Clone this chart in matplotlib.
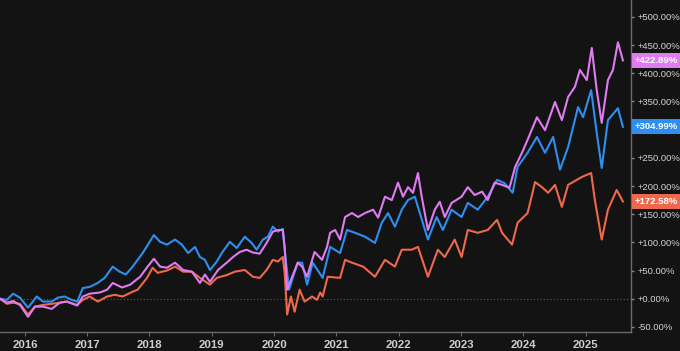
import matplotlib
matplotlib.use("Agg")
import matplotlib.pyplot as plt

# ---- data (decimal year, cumulative return %) ----
blue_t = [2015.60, 2015.71, 2015.81, 2015.92, 2016.05, 2016.19, 2016.29, 2016.43, 2016.53, 2016.64,
          2016.75, 2016.84, 2016.93, 2017.04, 2017.17, 2017.28, 2017.41, 2017.52, 2017.62, 2017.73,
          2017.89, 2018.07, 2018.17, 2018.28, 2018.41, 2018.52, 2018.62, 2018.73, 2018.81, 2018.89,
          2018.97, 2019.08, 2019.16, 2019.29, 2019.40, 2019.53, 2019.64, 2019.72, 2019.82, 2019.90,
          2019.98, 2020.06, 2020.14, 2020.17, 2020.24, 2020.30, 2020.38, 2020.45, 2020.53, 2020.62,
          2020.78, 2020.90, 2021.06, 2021.17, 2021.30, 2021.46, 2021.62, 2021.73, 2021.83, 2021.94,
          2022.05, 2022.15, 2022.26, 2022.34, 2022.47, 2022.61, 2022.71, 2022.85, 2023.01, 2023.11,
          2023.27, 2023.43, 2023.58, 2023.70, 2023.83, 2023.91, 2024.07, 2024.22, 2024.35, 2024.48,
          2024.59, 2024.72, 2024.88, 2024.96, 2025.09, 2025.18, 2025.26, 2025.36, 2025.52, 2025.60]
blue_v = [0, -2, 9, 2, -16, 4, -5, -5, 2, 4,
          -2, -5, 19, 21, 28, 37, 57, 48, 43, 57,
          81, 113, 101, 96, 105, 96, 81, 92, 74, 69,
          51, 66, 81, 101, 90, 110, 99, 87, 105, 110,
          128, 119, 124, 87, 16, 37, 64, 64, 25, 64,
          37, 92, 81, 122, 117, 110, 99, 135, 152, 128,
          158, 175, 181, 152, 105, 145, 122, 158, 145, 170,
          158, 181, 211, 205, 188, 234, 259, 287, 259, 287,
          229, 269, 340, 322, 370, 294, 232, 317, 338, 304.99]

violet_t = [2015.60, 2015.71, 2015.81, 2015.92, 2016.05, 2016.16, 2016.29, 2016.43, 2016.56, 2016.67,
            2016.84, 2016.93, 2017.04, 2017.20, 2017.32, 2017.41, 2017.56, 2017.69, 2017.85, 2017.97,
            2018.07, 2018.17, 2018.28, 2018.41, 2018.54, 2018.68, 2018.81, 2018.89, 2018.97, 2019.10,
            2019.24, 2019.34, 2019.45, 2019.56, 2019.66, 2019.77, 2019.88, 2019.98, 2020.06, 2020.14,
            2020.17, 2020.21, 2020.29, 2020.38, 2020.45, 2020.53, 2020.65, 2020.77, 2020.85, 2020.90,
            2020.98, 2021.06, 2021.14, 2021.25, 2021.35, 2021.46, 2021.59, 2021.67, 2021.78, 2021.89,
            2021.99, 2022.07, 2022.15, 2022.23, 2022.31, 2022.37, 2022.47, 2022.58, 2022.66, 2022.74,
            2022.85, 2023.01, 2023.11, 2023.22, 2023.34, 2023.43, 2023.54, 2023.66, 2023.78, 2023.87,
            2023.98, 2024.07, 2024.22, 2024.35, 2024.51, 2024.62, 2024.72, 2024.83, 2024.91, 2025.02,
            2025.10, 2025.18, 2025.26, 2025.36, 2025.44, 2025.52, 2025.60]
violet_v = [0, -7, -4, -11, -32, -14, -14, -18, -7, -5,
            -12, 4, 9, 11, 16, 28, 20, 25, 39, 57,
            71, 57, 55, 64, 51, 48, 28, 43, 30, 51,
            64, 74, 83, 87, 82, 80, 99, 119, 122, 122,
            92, 16, 39, 64, 57, 39, 83, 69, 92, 117,
            122, 105, 145, 152, 145, 152, 158, 144, 181, 175,
            206, 181, 198, 188, 223, 181, 122, 158, 172, 145,
            170, 181, 198, 184, 190, 175, 206, 202, 197, 234,
            259, 282, 322, 299, 349, 317, 358, 376, 406, 388,
            445, 370, 312, 388, 406, 455, 422.89]

orange_t = [2015.60, 2015.71, 2015.81, 2015.92, 2016.05, 2016.16, 2016.29, 2016.43, 2016.56, 2016.67,
            2016.84, 2016.93, 2017.04, 2017.17, 2017.32, 2017.44, 2017.57, 2017.72, 2017.81, 2017.96,
            2018.05, 2018.13, 2018.28, 2018.41, 2018.54, 2018.68, 2018.81, 2018.97, 2019.08, 2019.24,
            2019.37, 2019.53, 2019.66, 2019.77, 2019.88, 2019.98, 2020.06, 2020.14, 2020.17, 2020.21,
            2020.27, 2020.33, 2020.41, 2020.49, 2020.61, 2020.69, 2020.74, 2020.78, 2020.86, 2021.06,
            2021.14, 2021.25, 2021.43, 2021.62, 2021.78, 2021.94, 2022.05, 2022.21, 2022.31, 2022.47,
            2022.63, 2022.74, 2022.90, 2023.01, 2023.11, 2023.27, 2023.43, 2023.58, 2023.66, 2023.82,
            2023.91, 2024.07, 2024.19, 2024.30, 2024.40, 2024.51, 2024.62, 2024.72, 2024.94, 2025.09,
            2025.15, 2025.26, 2025.36, 2025.50, 2025.60]
orange_v = [0, -9, -7, -9, -28, -14, -11, -9, -7, -5,
            -11, -2, 4, -5, 4, 7, 4, 12, 16, 37,
            55, 46, 50, 57, 48, 48, 37, 25, 37, 42,
            48, 51, 39, 37, 51, 69, 66, 74, 46, -28,
            4, -23, 16, -5, 4, -2, 11, 4, 39, 37,
            69, 64, 57, 39, 69, 57, 87, 87, 92, 39,
            87, 74, 105, 74, 122, 117, 122, 140, 117, 96,
            135, 152, 207, 198, 188, 202, 163, 202, 216, 223,
            175, 105, 158, 193, 172.58]

year_ticks = [2016, 2017, 2018, 2019, 2020, 2021, 2022, 2023, 2024, 2025]
y_ticks = [-50, 0, 50, 100, 150, 200, 250, 300, 350, 400, 450, 500]

BG = "#131313"
C_BLUE = "#2e8ff0"
C_VIOLET = "#de7cf0"
C_ORANGE = "#f0684c"
FONT = ["Liberation Sans", "DejaVu Sans"]

fig = plt.figure(figsize=(6.8, 3.51), dpi=100, facecolor=BG)
ax = fig.add_axes([0, 19 / 351, 631 / 680, 332 / 351])
ax.set_facecolor(BG)

ax.axhline(0, color="#5a5a5a", lw=0.8, ls=(0, (1, 2)), zorder=1)

ax.plot(orange_t, orange_v, color=C_ORANGE, lw=1.5, zorder=3)
ax.plot(blue_t, blue_v, color=C_BLUE, lw=1.5, zorder=4)
ax.plot(violet_t, violet_v, color=C_VIOLET, lw=1.5, zorder=5)

ax.set_xlim(2015.60, 2025.73)
ax.set_ylim(-59, 530)

for s in ["top", "left"]:
    ax.spines[s].set_visible(False)
for s in ["bottom", "right"]:
    ax.spines[s].set_color("#6a6a6a")
    ax.spines[s].set_linewidth(1.0)

ax.set_xticks(year_ticks)
ax.set_xticklabels([str(y) for y in year_ticks], fontsize=8.2, fontweight="bold",
                   color="#cfcfcf", family=FONT)
ax.tick_params(axis="x", colors="#6a6a6a", length=3, width=0.8, pad=3, labelcolor="#cfcfcf")

ax.yaxis.tick_right()
ax.set_yticks(y_ticks)
ax.set_yticklabels([("+" if v >= 0 else "") + f"{v:.2f}%" for v in y_ticks],
                   fontsize=6.8, color="#d4d4d4", family=FONT)
ax.tick_params(axis="y", colors="#8a8a8a", length=2, width=1.0, pad=2.5, labelcolor="#d4d4d4")

# end-value labels
for val, col in [(violet_v[-1], C_VIOLET), (blue_v[-1], C_BLUE), (orange_v[-1], C_ORANGE)]:
    ax.annotate(f"+{val:.2f}%", xy=(1.0, val), xycoords=("axes fraction", "data"),
                xytext=(2.5, 0), textcoords="offset points", va="center", ha="left",
                fontsize=6.8, fontweight="bold", color="white", family=FONT,
                annotation_clip=False,
                bbox=dict(boxstyle="square,pad=0.3", fc=col, ec="none"), zorder=10)

fig.savefig("out.png", dpi=100, facecolor=BG)
